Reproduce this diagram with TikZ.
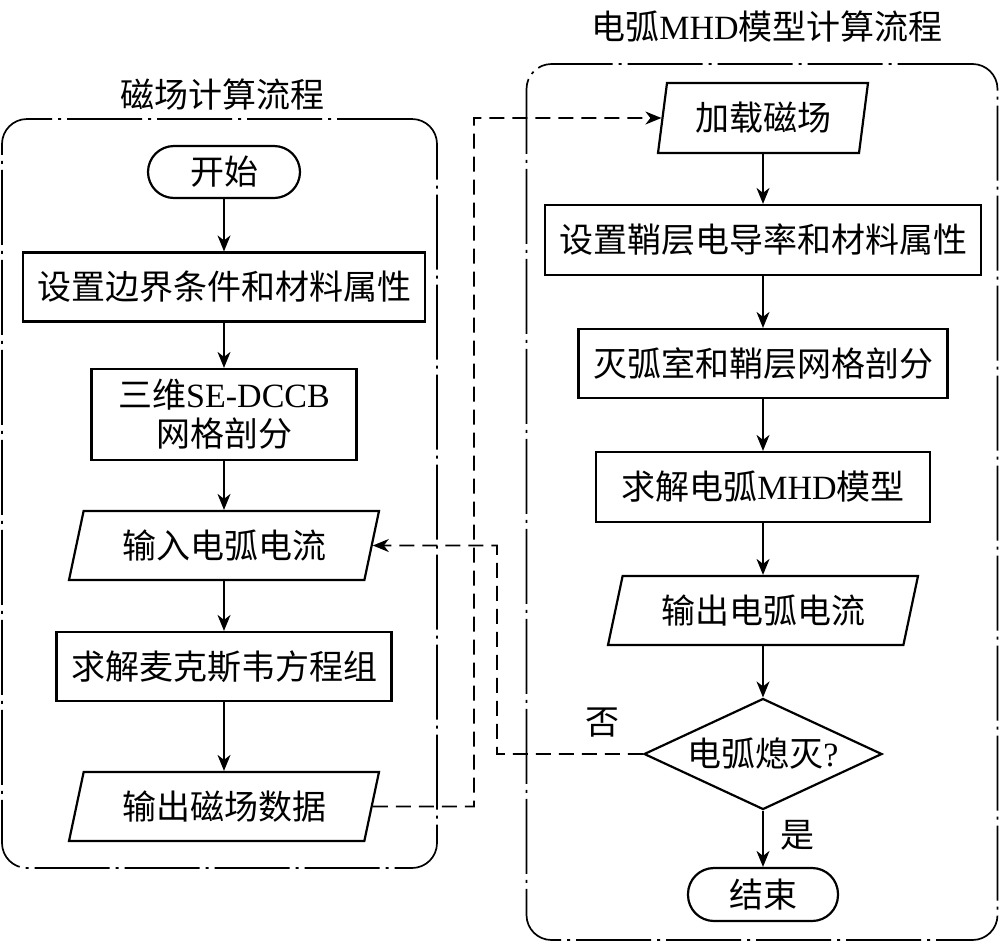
\documentclass[tikz,border=0pt]{standalone}
\usepackage{fontspec}
\setmainfont{Liberation Serif}
\newfontfamily\cjk{Noto Sans CJK SC}
\usetikzlibrary{shapes.geometric,arrows.meta}
\begin{document}
\begin{tikzpicture}[x=1pt,y=-1pt,
  every node/.style={font=\cjk\fontsize{34}{39}\selectfont, inner sep=0pt},
  term/.style={draw, line width=2.2pt, rounded corners=26pt, minimum width=152pt, minimum height=52pt},
  box/.style={draw, line width=2.2pt, minimum width=#1, minimum height=69pt},
  para/.style={draw, line width=2.2pt, trapezium, trapezium left angle=65, trapezium right angle=115,
    trapezium stretches body, minimum width=#1, minimum height=69pt},
  paraload/.style={draw, line width=2.2pt, trapezium, trapezium left angle=74, trapezium right angle=106,
    trapezium stretches body, minimum width=#1, minimum height=70pt},
  decision/.style={draw, diamond, line width=2.2pt, aspect=2.14, minimum width=238pt, minimum height=111pt},
  flow/.style={line width=1.7pt, -{Stealth[length=16pt,width=13pt,inset=5pt]}},
  fb/.style={flow, dash pattern=on 15pt off 8pt},
  frame/.style={draw, line width=1.7pt, rounded corners=25pt, dash pattern=on 75pt off 6pt on 3pt off 6pt}
]
\useasboundingbox (0,0) rectangle (1000,943);

% frames and titles
\node[frame, minimum width=435pt, minimum height=749pt] (lframe) at (219.5,493.5) {};
\node[frame, minimum width=471pt, minimum height=876pt] (rframe) at (762,502) {};
\node (t1) at (222,95) {磁场计算流程};
\node (t2) at (767,27) {电弧{\rmfamily MHD}模型计算流程};

% left column
\node[term] (start) at (224,172) {开始};
\node[box=402pt] (bound) at (224,287) {设置边界条件和材料属性};
\node[box=265pt, minimum height=91pt, align=center] (mesh) at (224,414.5) {三维{\rmfamily SE-DCCB}\\网格剖分};
\node[para=310pt] (inarc) at (224,545.5) {输入电弧电流};
\node[box=335pt] (maxw) at (224,666.5) {求解麦克斯韦方程组};
\node[para=310pt] (outmag) at (224,806.5) {输出磁场数据};

% right column
\node[paraload=210pt] (load) at (763,118) {加载磁场};
\node[box=436pt, minimum height=70pt] (sheath) at (763,240) {设置鞘层电导率和材料属性};
\node[box=369pt] (arcmesh) at (763,363.5) {灭弧室和鞘层网格剖分};
\node[box=334pt, minimum height=70pt] (solve) at (763,487) {求解电弧{\rmfamily MHD}模型};
\node[para=310pt] (outarc) at (763,610.5) {输出电弧电流};
\node[decision] (ext) at (763,754) {电弧熄灭{\rmfamily ?}};
\node[term, minimum width=150pt, minimum height=53pt] (end) at (763,894.5) {结束};

\node (no) at (602,723) {否};
\node (yes) at (797,835) {是};

% main flow
\draw[flow] (start) -- (bound);
\draw[flow] (bound) -- (mesh);
\draw[flow] (mesh) -- (inarc);
\draw[flow] (inarc) -- (maxw);
\draw[flow] (maxw) -- (outmag);

\draw[flow] (load) -- (sheath);
\draw[flow] (sheath) -- (arcmesh);
\draw[flow] (arcmesh) -- (solve);
\draw[flow] (solve) -- (outarc);
\draw[flow] (outarc) -- (ext);
\draw[flow] (ext) -- (end);

% feedback
\coordinate (c1) at (474,118);
\draw[fb] (outmag.east) -| (c1) -- (load.west);
\coordinate (c2) at (497,545.5);
\draw[fb] (ext.west) -| (c2) -- (inarc.east);
\end{tikzpicture}
\end{document}
